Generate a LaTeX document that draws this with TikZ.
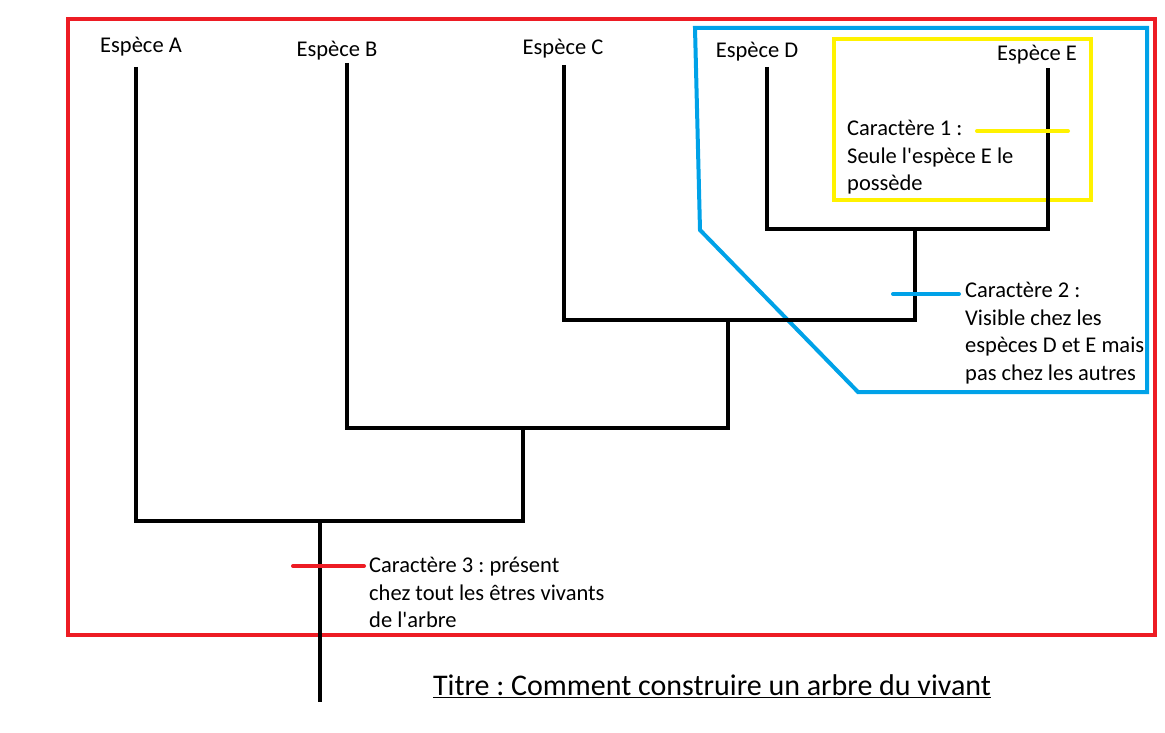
\documentclass[tikz,border=0pt]{standalone}
\usepackage{fontspec}
\setmainfont{Carlito}
\frenchspacing
\definecolor{pred}{RGB}{237,28,36}
\definecolor{pblue}{RGB}{0,162,232}
\definecolor{pyellow}{RGB}{255,242,0}
\newcommand{\sq}{\textquotesingle}
\begin{document}
\begin{tikzpicture}[x=1pt,y=-1pt,
  branch/.style={line width=4pt, black},
  frame/.style={line width=4pt},
  tick/.style={line width=4pt, line cap=round},
  lab/.style={inner sep=0pt, font=\fontsize{22.5}{27.5}\selectfont},
  blk/.style={lab, anchor=north west, align=left}]
\useasboundingbox (0,0) rectangle (1165,733);
\fill[white] (0,0) rectangle (1165,733);
% frames
\draw[frame, pred] (68,19) rectangle (1155,635);
\draw[frame, pblue] (695,28) -- (1147,28) -- (1147,392) -- (858,392) -- (700,230) -- cycle;
\draw[frame, pyellow] (834,39) rectangle (1091,200);
% tree
\coordinate (a) at (136,67);
\coordinate (b) at (347,63);
\coordinate (c) at (564,65);
\coordinate (d) at (767,67);
\coordinate (e) at (1048,68);
\coordinate (nDE) at (915,229);
\coordinate (nCDE) at (728,320);
\coordinate (nBCDE) at (523,428);
\coordinate (nroot) at (320,521);
\coordinate (root) at (320,702);
\draw[branch] (d) |- (nDE) -| (e);
\draw[branch] (c) |- (nCDE) -| (nDE);
\draw[branch] (b) |- (nBCDE) -| (nCDE);
\draw[branch] (a) |- (nroot) -| (nBCDE);
\draw[branch] (nroot) -- (root);
% labels
\node[lab] (la) at (141,47) {Espèce A};
\node[lab] (lb) at (337,51) {Espèce B};
\node[lab] (lc) at (563,49) {Espèce C};
\node[lab] (ld) at (757,52) {Espèce D};
\node[lab] (le) at (1037,55) {Espèce E};
\node[blk] (c1) at (847,120) {Caractère 1 :\\Seule l\sq espèce E le\\possède};
\node[blk] (c2) at (965,282) {Caractère 2 :\\Visible chez les\\espèces D et E mais\\pas chez les autres};
\node[blk] (c3) at (369,557) {Caractère 3 : présent\\chez tout les êtres vivants\\de l\sq arbre};
% ticks
\coordinate (y1) at (977,131); \coordinate (y2) at (1068,131);
\coordinate (b1) at (893,294); \coordinate (b2) at (959,294);
\coordinate (r1) at (293,566); \coordinate (r2) at (364,566);
\draw[tick, pyellow] (y1) -- (y2);
\draw[tick, pblue] (b1) -- (b2);
\draw[tick, pred] (r1) -- (r2);
% title
\node[inner sep=0pt, font=\fontsize{30}{36}\selectfont] (title) at (712,686) {\underline{Titre : Comment construire un arbre du vivant}};
\end{tikzpicture}
\end{document}
